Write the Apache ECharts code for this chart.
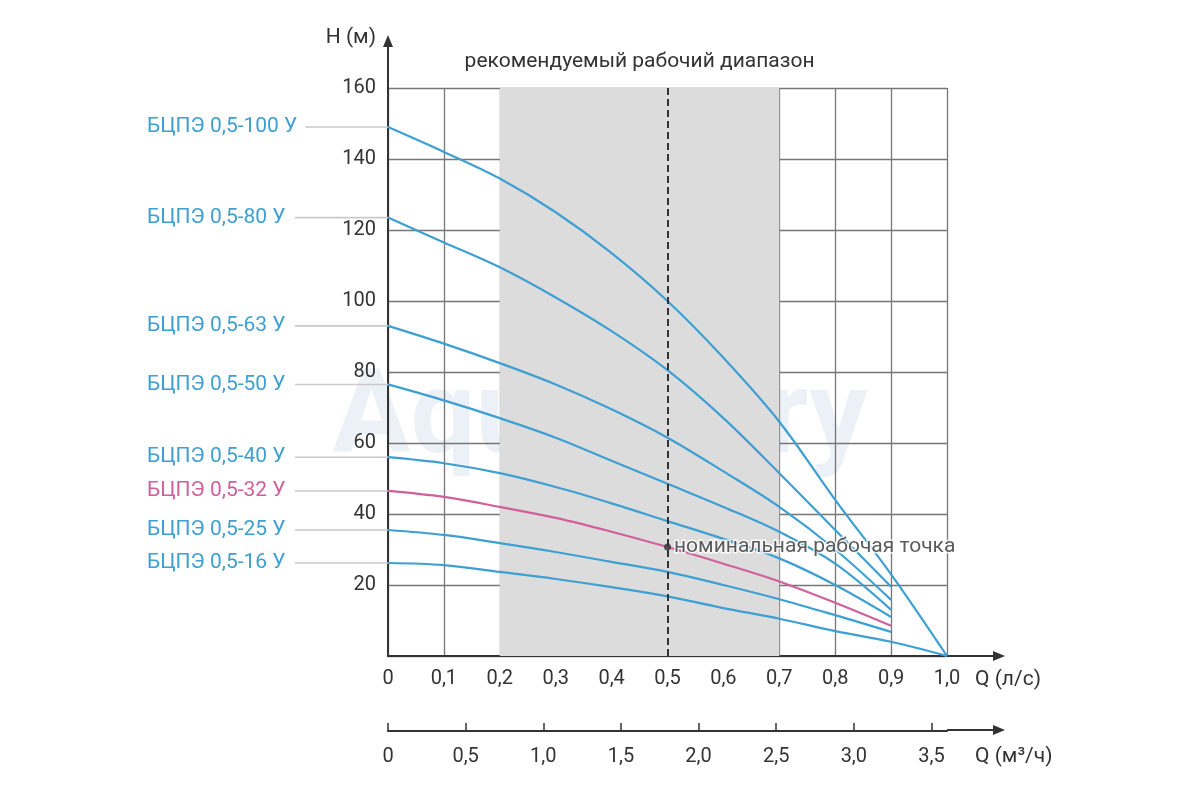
<!DOCTYPE html>
<html>
<head>
<meta charset="utf-8">
<script src="https://cdn.jsdelivr.net/npm/echarts@6/dist/echarts.min.js"></script>
<style>
  html, body { margin: 0; background: #fff; }
  #chart { width: 1200px; height: 800px; }
</style>
</head>
<body>
<div id="chart"></div>
<script>
// расход, л/с
const flowLs = [0, 0.1, 0.2, 0.3, 0.4, 0.5, 0.6, 0.7, 0.8, 0.9, 1.0];
// напор, м (по точкам flowLs)
const head100 = [149, 142, 134.5, 125, 113.5, 100, 84, 66, 44, 23, 0];
const head80 = [123.5, 116.5, 109.5, 101, 91.5, 80.5, 67, 51.5, 35.5, 19.5];
const head63 = [93, 88, 82.5, 76.5, 69.5, 61.5, 52, 42, 30, 15.8];
const head50 = [76.5, 72, 67, 61.5, 55, 48.5, 42, 35, 26, 13];
const head40 = [56, 54.3, 51.5, 47.6, 43, 38, 33, 27.5, 20, 11];
const head32 = [46.5, 44.8, 42, 38.9, 35, 30.7, 26, 21, 15, 8.5];
const head25 = [35.5, 34.1, 31.8, 29.3, 26.5, 23.7, 20, 16, 11.5, 6.8];
const head16 = [26.2, 25.6, 23.7, 21.7, 19.4, 16.8, 13.5, 10.5, 7, 4, 0];

const pumpNames = ['БЦПЭ 0,5-100 У', 'БЦПЭ 0,5-80 У', 'БЦПЭ 0,5-63 У', 'БЦПЭ 0,5-50 У',
                   'БЦПЭ 0,5-40 У', 'БЦПЭ 0,5-32 У', 'БЦПЭ 0,5-25 У', 'БЦПЭ 0,5-16 У'];
const pumpHeads = [head100, head80, head63, head50, head40, head32, head25, head16];

const recommendedRange = [0.2, 0.7];
const nominalPoint = [0.5, 30.7];
const flowM3hMax = 3.6;

const BLUE = '#3d9fd2';
const PINK = '#d0609b';
const HIGHLIGHT = 'БЦПЭ 0,5-32 У';
const FONT = 'Roboto, "Noto Sans", sans-serif';

const comma = v => v === 0 ? '0' : v.toFixed(1).replace('.', ',');

// вертикальная линия сетки на 0,5 прозрачна: там пунктир
const vLineColors = flowLs.map(q => q === 0.5 ? 'rgba(0,0,0,0)' : '#767676');

const pumpSeries = pumpNames.map((name, k) => ({
    name: name,
    type: 'line',
    xAxisIndex: 0,
    yAxisIndex: 0,
    smooth: 0.35,
    showSymbol: false,
    silent: true,
    z: 3,
    lineStyle: { width: 2.2, color: name === HIGHLIGHT ? PINK : BLUE },
    data: pumpHeads[k].map((h, i) => [flowLs[i], h])
}));

const chart = echarts.init(document.getElementById('chart'));
chart.setOption({
    animation: false,
    textStyle: { fontFamily: FONT },
    grid: [
        { left: 388, top: 88, width: 559, height: 568 },
        { left: 388, top: 730, width: 559, height: 1 }
    ],
    xAxis: [
        {
            type: 'value', gridIndex: 0, min: 0, max: 1.0, interval: 0.1,
            axisLine: { lineStyle: { color: '#333', width: 2 } },
            axisTick: { show: false },
            axisLabel: { color: '#333', fontSize: 20, margin: 13, formatter: comma },
            splitLine: { show: true, lineStyle: { color: vLineColors, width: 1.3 } }
        },
        {
            type: 'value', gridIndex: 1, min: 0, max: flowM3hMax, interval: 0.5,
            position: 'bottom',
            axisLine: { lineStyle: { color: '#333', width: 2 } },
            axisTick: { inside: true, length: 8, lineStyle: { color: '#333', width: 1.5 } },
            axisLabel: { color: '#333', fontSize: 20, margin: 16, showMaxLabel: false, formatter: comma },
            splitLine: { show: false }
        }
    ],
    yAxis: [
        {
            type: 'value', gridIndex: 0, min: 0, max: 160, interval: 20,
            axisLine: { show: true, lineStyle: { color: '#333', width: 2 } },
            axisTick: { show: false },
            axisLabel: { color: '#333', fontSize: 20, margin: 12, formatter: v => v === 0 ? '' : v },
            splitLine: { show: true, lineStyle: { color: '#767676', width: 1.3 } }
        },
        { type: 'value', gridIndex: 1, show: false, min: 0, max: 1 }
    ],
    series: [
        {
            // рекомендуемый диапазон и номинальный расход
            type: 'line', xAxisIndex: 0, yAxisIndex: 0, data: [], z: -1, silent: true,
            markArea: {
                silent: true,
                itemStyle: { color: '#dcdcdc' },
                data: [[{ xAxis: recommendedRange[0] }, { xAxis: recommendedRange[1] }]]
            },
            markLine: {
                silent: true, symbol: 'none', label: { show: false },
                lineStyle: { color: '#333', type: [7, 4], width: 2 },
                data: [{ xAxis: nominalPoint[0] }]
            }
        },
        ...pumpSeries,
        {
            type: 'scatter', xAxisIndex: 0, yAxisIndex: 0, z: 5, silent: true,
            symbolSize: 7, itemStyle: { color: '#333' },
            label: {
                show: true, position: 'right', distance: 3,
                formatter: 'номинальная рабочая точка',
                color: '#333', fontSize: 21, textBorderColor: '#fff', textBorderWidth: 3
            },
            data: [nominalPoint]
        }
    ]
});

// стрелки осей, подписи осей, подписи кривых
const px = (q, h) => chart.convertToPixel({ gridIndex: 0 }, [q, h]);
const origin = px(0, 0);
const xEnd = px(1.0, 0);
const yTop = px(0, 160);
const x2 = chart.convertToPixel({ xAxisIndex: 1 }, flowM3hMax);
const y2 = 730;
const arrowLen = 58;

function arrowRight(x, y) {
    return [
        { type: 'line', shape: { x1: x, y1: y, x2: x + arrowLen - 6, y2: y }, style: { stroke: '#333', lineWidth: 2 } },
        { type: 'polygon', shape: { points: [[x + arrowLen, y], [x + arrowLen - 12, y - 5], [x + arrowLen - 12, y + 5]] }, style: { fill: '#333' } }
    ];
}

const graphics = [
    {
        type: 'text', left: 'center', top: 365, z: -2, silent: true,
        style: { text: 'Aquastory', font: 'bold 116px ' + FONT, fill: 'rgba(200,212,232,0.35)' }
    },
    ...arrowRight(xEnd[0], xEnd[1]),
    ...arrowRight(x2, y2),
    { type: 'line', shape: { x1: yTop[0], y1: yTop[1], x2: yTop[0], y2: yTop[1] - 47 }, style: { stroke: '#333', lineWidth: 2 } },
    { type: 'polygon', shape: { points: [[yTop[0], yTop[1] - 53], [yTop[0] - 5, yTop[1] - 41], [yTop[0] + 5, yTop[1] - 41]] }, style: { fill: '#333' } },
    { type: 'text', x: yTop[0] - 12, y: yTop[1] - 50, style: { text: 'H (м)', font: '21px ' + FONT, fill: '#333', align: 'right', verticalAlign: 'middle' } },
    { type: 'text', x: xEnd[0] + 28, y: xEnd[1] + 24, style: { text: 'Q (л/с)', font: '21px ' + FONT, fill: '#333', align: 'left', verticalAlign: 'middle' } },
    { type: 'text', x: x2 + 28, y: y2 + 27, style: { text: 'Q (м³/ч)', font: '21px ' + FONT, fill: '#333', align: 'left', verticalAlign: 'middle' } },
    {
        type: 'text', x: px((recommendedRange[0] + recommendedRange[1]) / 2, 160)[0], y: yTop[1] - 26,
        style: { text: 'рекомендуемый рабочий диапазон', font: '21px ' + FONT, fill: '#333', align: 'center', verticalAlign: 'middle' }
    }
];

pumpNames.forEach((name, k) => {
    const y = px(0, pumpHeads[k][0])[1];
    const color = name === HIGHLIGHT ? PINK : BLUE;
    graphics.push({
        type: 'line', z: 1,
        shape: { x1: 295, y1: y, x2: origin[0], y2: y },
        style: { stroke: '#c9c9c9', lineWidth: 1.6 }
    });
    graphics.push({
        type: 'text', z: 2, x: 147, y: y,
        style: {
            text: name, font: '21px ' + FONT, fill: color, align: 'left', verticalAlign: 'middle',
            backgroundColor: '#fff', padding: [0, 8, 0, 0]
        }
    });
});

chart.setOption({ graphic: graphics });
</script>
</body>
</html>
